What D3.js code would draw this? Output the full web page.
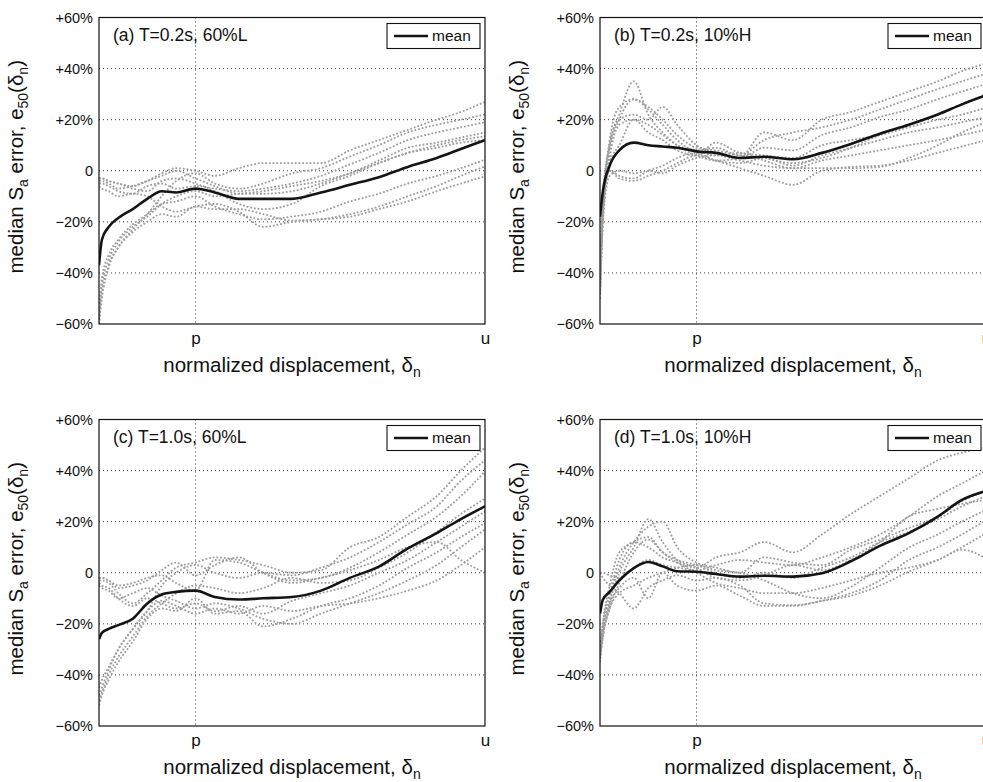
<!DOCTYPE html>
<html><head><meta charset="utf-8">
<script src="https://cdn.jsdelivr.net/npm/d3@7"></script>
<style>
html,body{margin:0;padding:0;background:#fff;}
svg{display:block;font-family:"Liberation Sans",Arial,Helvetica,sans-serif;}
</style></head>
<body>
<svg id="chart" width="983" height="782"></svg>
<script>
// normalized displacement grid: 0 = start, 1 = p, 4 = u
const xGrid = [0, 0.03, 0.1, 0.2, 0.35, 0.5, 0.65, 0.8, 1.0, 1.2, 1.45, 1.7, 2.0, 2.3, 2.6, 2.9, 3.2, 3.5, 3.75, 4.0];
const xTickVals = [1, 4];
const xTickLabels = ["p", "u"];
const yTickVals = [-60, -40, -20, 0, 20, 40, 60];
const yTickLabels = ["\u221260%", "\u221240%", "\u221220%", "0", "+20%", "+40%", "+60%"];
const panelTitles = ["(a) T=0.2s, 60%L", "(b) T=0.2s, 10%H", "(c) T=1.0s, 60%L", "(d) T=1.0s, 10%H"];

const meanA = [-37, -27, -22, -18.5, -15, -11, -8, -8.5, -7, -8.5, -11, -11, -11, -8.5, -5.5, -2.5, 1.5, 5, 8.5, 12];
const grayA = [
  [-3, -3, -4, -5, -6, -4, -1, 1, 0, -2, 1, 3, 3, 3, 8, 12, 16, 20, 23, 27],
  [-60, -50, -38, -30, -23, -17, -10, -4, -1, -5, -7, -5, -1, 1, 5.6, 10, 15, 18, 20, 22],
  [-5, -5, -6, -8, -9, -6, -5, -7, -6, -7, -8, -7, -5, -2, 2.5, 7, 12, 15, 17, 19],
  [-58, -45, -35, -28, -22, -18, -13, -10, -8, -10, -9, -8, -6, -4, -1, 4, 9, 11, 13, 15],
  [-3, -3, -4, -5, -7, -8, -4, -3, -5, -8, -13, -15, -13, -6, -2, 3, 7, 10, 12, 13.5],
  [-55, -42, -33, -27, -21, -17, -13, -12, -10, -14, -17, -19, -18, -16, -12, -9, -5, -2, 1, 4.3],
  [-6, -7, -8, -10, -9, -10, -14, -16, -14, -13, -16, -22, -20, -19, -17, -14, -10, -6, -2, 1.7],
  [-60, -48, -37, -30, -24, -20, -17, -18, -14, -15, -15, -17, -19.5, -19, -18, -15, -12, -8, -5, -2.2],
  [-4, -4, -5, -7, -6, -4, -2, 0, -3, -6, -9, -9, -8, -5, -1, 3, 7, 9, 11, 12]
];

const meanB = [-18, -8, 2, 8, 11, 10, 9.5, 9, 7.6, 7, 5, 5.5, 4.5, 7, 10.5, 14.5, 18, 22, 26, 29.5];
const grayB = [
  [-50, -20, 10, 22, 35, 22, 15, 10, 6, 4, 5, 15, 12, 20, 23, 27, 31, 35, 39, 42],
  [-45, -15, 12, 25, 28, 24, 18, 12, 8, 9, 6, 12, 15, 17, 20, 24, 28, 32, 35, 38],
  [-40, -10, 10, 20, 22, 20, 25, 18, 10, 7, 5, 9, 8, 14, 17, 21, 24, 28, 31, 34],
  [-48, -18, 5, 18, 20, 15, 12, 8, 6, 11, 7, 6, 5, 10, 12, 14, 17, 20, 22, 24.7],
  [-45, -15, 0, -2, -3, 0, 2, 5, 7, 4, 3, 5, 2, 6, 9, 12, 15, 17, 19, 21],
  [-50, -20, -2, 0, -1, 0, -1, 2, 5, 6, 4, 2, 1, 4, 6, 8, 10, 12, 14, 16],
  [-40, -12, 0, -3, -4, -2, 0, 3, 6, 4, 1, -2, -5.5, 0, 1.5, 2, 4, 7, 9.5, 12],
  [-48, -15, 8, 20, 28, 25, 20, 14, 9, 8, 6, 5, 3, 5, 9, 14, 18, 22, 26, 30],
  [-42, -14, 3, 10, 20, 18, 14, 10, 8, 6, 7, 4, 1, 1, 1, 1.5, 5, 10, 15, 19]
];

const meanC = [-26, -23.5, -22, -20.5, -18, -12, -8.5, -7.5, -7, -9.5, -10.5, -10, -9.5, -7, -2, 2.4, 9.5, 15.5, 21, 26];
const grayC = [
  [-3, -3, -4, -8, -12, -8, -3, 2, 4, 6, 5, 3, 0, 1, 10, 14, 22, 30, 40, 49],
  [-45, -42, -37, -30, -22, -15, -5, 0, 3, 0, -2, 0, -1, 2, 6, 12, 19, 26, 36, 44],
  [-2, -2, -3, -5, -4, -2, -1, -4, -7, 5, 4, 0, -3, -2, 2, 8, 15, 22, 30, 39.6],
  [-50, -47, -40, -33, -25, -17, -12, -8, -5, -6, -8, -6, -2, -4, -3, 2, 8, 16, 23, 29],
  [-4, -5, -6, -10, -13, -10, -12, -14, -12, -15, -13, -16, -11, -8, -5, 0, 5, 12, 18, 24],
  [-52, -48, -42, -35, -27, -18, -14, -15, -10, -16, -15, -21, -18, -13, -10, -5, 2, 8, 14, 19.4],
  [-5, -6, -7, -10, -8, -6, -9, -11, -14, -12, -14, -18, -20, -16, -12, -8, -3, 3, 10, 17],
  [-48, -45, -38, -30, -22, -15, -11, -13, -16, -14, -16, -13, -15, -13, -12, -10, -7, -3, 3, 10],
  [-2, -2, -3, -6, -5, -3, 1, 4, -1, 3, 6, 0, -4, -2, 1, 5, 10, 12, 5, 0]
];

const meanD = [-16, -10.5, -7.5, -3, 1.8, 4.2, 2.5, 0.6, 0.4, -0.5, -1.5, -1.2, -1.5, -0.2, 4.5, 10.5, 15.5, 22, 28.5, 32];
const grayD = [
  [-30, -20, -8, 5, 12, 10, 6, 4, 2, 6, 8, 12, 8, 15, 23, 30, 37, 44, 47, 49],
  [0, 0, -1, -2, 2, 5, 3, 2, 1, 3, 5, 4, 3, 6, 10, 15, 22, 30, 35, 40],
  [-33, -22, -10, 2, 12, 18, 20, 10, 4, 2, 0, 6, 4, 3, 9, 13, 17.5, 22, 28, 32],
  [-35, -25, -12, 0, 10, 21, 12, 5, 2, -2, -3, -1, 3, 1, 5, 12, 22, 25, 27, 28.5],
  [-32, -24, -14, -8, -5, -2, 0, 2, 3, 1, 0, -3, -8, -10, -5.5, 2, 9.8, 15, 20, 24.6],
  [0, -2, -5, -8, -14, -6, -3, -1, -3, -2, -5, -12, -12.7, -11, -8, -3, 5, 10, 15, 20.6],
  [-30, -22, -12, -6, -2, -10, 0, -5, -7, -5, -9, -13, -13, -11, -9, -5, 0.4, 5, 10, 15.5],
  [-34, -25, -14, -4, 8, 13, 8, 4, 0, -4, -6, -8, -8, -6, -3, 0, 2, 5, 9, 5.6],
  [-32, -20, -5, 8, 12, 14, 8, 5, 3, 0, -2, 0, -2, 2, 6, 12, 16, 21, 26, 30]
];

const panelMeans = [meanA, meanB, meanC, meanD];
const panelGrays = [grayA, grayB, grayC, grayD];

const svg = d3.select("#chart");
const W = 386, H = 306.5;
const lefts = [99, 600, 99, 600];
const tops = [17.5, 17.5, 419.5, 419.5];

const x = d3.scaleLinear().domain([0, 4]).range([0, W]);
const y = d3.scaleLinear().domain([-60, 60]).range([H, 0]);

const line = d3.line().x((d, i) => x(xGrid[i])).y(d => y(d)).curve(d3.curveMonotoneX);

for (let k = 0; k < 4; k++) {
  const g = svg.append("g").attr("transform", `translate(${lefts[k]},${tops[k]})`);
  const clipId = "clip" + k;
  g.append("clipPath").attr("id", clipId).append("rect").attr("width", W).attr("height", H);

  // grid
  g.append("g").selectAll("line").data(yTickVals.filter(v => v > -60 && v < 60)).join("line")
    .attr("x1", 0).attr("x2", W).attr("y1", d => y(d)).attr("y2", d => y(d))
    .attr("stroke", "#222").attr("stroke-width", 0.9).attr("stroke-dasharray", "1,3");
  g.append("line").attr("x1", x(1)).attr("x2", x(1)).attr("y1", 0).attr("y2", H)
    .attr("stroke", "#222").attr("stroke-width", 0.9).attr("stroke-dasharray", "1,3");

  // gray runs
  const plot = g.append("g").attr("clip-path", `url(#${clipId})`);
  plot.selectAll("path.gray").data(panelGrays[k]).join("path").attr("class", "gray")
    .attr("d", line).attr("fill", "none").attr("stroke", "#9c9c9c")
    .attr("stroke-width", 1.8).attr("stroke-dasharray", "1.8,1.9");
  plot.append("path").datum(panelMeans[k]).attr("d", line).attr("fill", "none")
    .attr("stroke", "#141414").attr("stroke-width", 2.6).attr("stroke-linejoin", "round");

  // frame
  g.append("rect").attr("width", W).attr("height", H).attr("fill", "none")
    .attr("stroke", "#111").attr("stroke-width", 1.2);

  // y axis
  const ya = g.append("g").call(d3.axisLeft(y).tickValues(yTickVals)
    .tickFormat((d, i) => yTickLabels[i]).tickSize(0).tickPadding(6));
  ya.select(".domain").remove();
  ya.selectAll("text").attr("font-size", 14.5).attr("fill", "#111")
    .style("font-family", "'Liberation Sans', Arial, sans-serif");

  // x axis
  const xa = g.append("g").attr("transform", `translate(0,${H})`).call(d3.axisBottom(x)
    .tickValues(xTickVals).tickFormat((d, i) => xTickLabels[i]).tickSize(0).tickPadding(8));
  xa.select(".domain").remove();
  xa.selectAll("text").attr("font-size", 17).attr("fill", "#111")
    .style("font-family", "'Liberation Sans', Arial, sans-serif");

  // x label
  const xl = g.append("text").attr("x", W / 2).attr("y", H + 48).attr("text-anchor", "middle")
    .attr("font-size", 20.5).attr("fill", "#111");
  xl.append("tspan").text("normalized displacement, \u03b4");
  xl.append("tspan").attr("font-size", 14).attr("dy", 5).text("n");

  // y label
  const yl = g.append("text").attr("transform", `translate(-76,${H / 2 - 4}) rotate(-90)`)
    .attr("text-anchor", "middle").attr("font-size", 20.5).attr("fill", "#111");
  yl.append("tspan").text("median S");
  yl.append("tspan").attr("font-size", 14).attr("dy", 5).text("a");
  yl.append("tspan").attr("dy", -5).text(" error, e");
  yl.append("tspan").attr("font-size", 14).attr("dy", 5).text("50");
  yl.append("tspan").attr("dy", -5).text("(\u03b4");
  yl.append("tspan").attr("font-size", 14).attr("dy", 5).text("n");
  yl.append("tspan").attr("dy", -5).text(")");

  // title
  g.append("text").attr("x", 14).attr("y", 23).attr("font-size", 17.5).attr("fill", "#111")
    .text(panelTitles[k]);

  // legend
  const lg = g.append("g").attr("transform", `translate(${W - 98},6)`);
  lg.append("rect").attr("width", 93).attr("height", 25).attr("fill", "#fff")
    .attr("stroke", "#111").attr("stroke-width", 1.1);
  lg.append("line").attr("x1", 7).attr("x2", 41).attr("y1", 12.5).attr("y2", 12.5)
    .attr("stroke", "#141414").attr("stroke-width", 2.6);
  lg.append("text").attr("x", 45).attr("y", 17.5).attr("font-size", 15.5).attr("fill", "#111").text("mean");
}
</script>
</body></html>
